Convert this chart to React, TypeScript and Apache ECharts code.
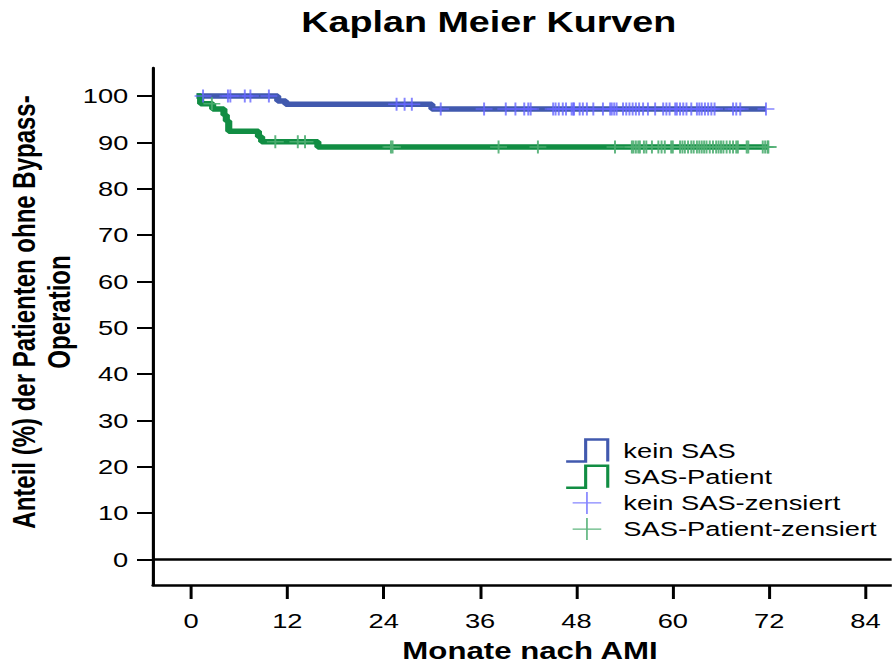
import React, { useEffect, useRef } from "react";
import * as echarts from "echarts";

// The figure is laid out on a narrower canvas and widened horizontally.
const STRETCH = 1.3;
const CHART_W = 892 / STRETCH;
const CHART_H = 666;

const FONT = "'Liberation Sans', Arial, Helvetica, sans-serif";
const BLUE = "#4159ae";
const GREEN = "#118d43";
const BLUE_CENSOR = "#6666ff";
const GREEN_CENSOR = "#4fae72";

const xTicks = [0, 12, 24, 36, 48, 60, 72, 84];
const yTicks = [0, 10, 20, 30, 40, 50, 60, 70, 80, 90, 100];

// Kaplan-Meier steps: month of each step and the survival (%) from then on
const keinSasTimes = [0.7, 10.8, 11.8, 30.0, 71.6];
const keinSasSurvival = [100, 98.9, 98.2, 97.2, 97.2];
const keinSasCensored = [
  1.5, 4.6, 4.9, 6.7, 7.4, 9.7, 25.6, 26.6, 27.5, 31.1, 36.5, 39.2, 40.4, 41.5,
  42.0, 42.3, 45.1, 45.4, 45.8, 46.3, 46.7, 47.4, 47.6, 47.7, 48.4, 48.8, 49.3,
  50.1, 51.3, 52.2, 52.4, 52.7, 53.0, 53.8, 54.2, 54.6, 55.0, 55.4, 55.8, 56.3,
  56.9, 57.8, 58.8, 59.2, 59.6, 60.3, 60.5, 60.9, 61.3, 61.7, 62.3, 63.0, 63.3,
  63.6, 64.0, 64.4, 64.8, 65.2, 67.5, 67.9, 68.4, 71.6,
];

const sasTimes = [0.7, 1.2, 2.7, 4.1, 4.4, 4.7, 8.4, 8.8, 15.8, 71.9];
const sasSurvival = [100, 98.3, 97.2, 95.9, 94.6, 92.4, 91.2, 90.1, 89.0, 89.0];
const sasCensored = [
  2.6, 10.5, 13.3, 14.2, 24.9, 25.1, 38.3, 43.2, 52.8, 54.9, 55.1, 55.4, 55.7,
  55.9, 56.4, 56.7, 57.4, 58.2, 58.6, 59.0, 59.8, 60.0, 60.9, 61.2, 61.5, 61.9,
  62.3, 62.6, 63.0, 63.3, 63.6, 63.9, 64.2, 64.6, 65.0, 65.4, 65.7, 66.0, 66.3,
  66.7, 67.1, 67.5, 67.9, 68.1, 69.2, 69.4, 71.2, 71.5, 71.8, 71.9,
];

const STEP_ICON = "path://M0,22L15,22L15,0L32,0L32,22";
const PLUS_ICON = "path://M11,0L11,22M0,11L22,11";
const PLUS_MARK = "path://M5,0L5,10M0,5L10,5";

function levelAt(times: number[], surv: number[], t: number): number {
  let v = surv[0];
  for (let i = 0; i < times.length; i++) {
    if (times[i] <= t) v = surv[i];
  }
  return v;
}

function stepData(times: number[], surv: number[]) {
  return times.map((t, i) => [t, surv[i]]);
}

function censorData(times: number[], surv: number[], cens: number[]) {
  return cens.map((t) => [t, levelAt(times, surv, t)]);
}

export default function App() {
  const ref = useRef<HTMLDivElement>(null);

  useEffect(() => {
    if (!ref.current) return;
    const chart = echarts.init(ref.current, undefined, { renderer: "svg" });

    const option: echarts.EChartsOption = {
      animation: false,
      backgroundColor: "#ffffff",
      textStyle: { fontFamily: FONT },
      title: {
        text: "Kaplan Meier Kurven",
        left: 376,
        top: 7,
        textAlign: "center",
        padding: 0,
        textStyle: {
          fontFamily: FONT,
          fontSize: 29,
          fontWeight: "bold",
          color: "#000",
          lineHeight: 30,
        },
      },
      grid: { left: 117.7, right: 0, top: 68, bottom: 81, containLabel: false },
      xAxis: {
        type: "value",
        min: -4.73,
        max: 87.27,
        axisLine: { show: true, onZero: false, lineStyle: { color: "#000", width: 2.5 } },
        axisTick: {
          show: true,
          customValues: xTicks,
          length: 14,
          lineStyle: { color: "#000", width: 2.3 },
        },
        axisLabel: {
          customValues: xTicks,
          margin: 25,
          fontSize: 21,
          color: "#000",
          fontFamily: FONT,
        },
        splitLine: { show: false },
      },
      yAxis: {
        type: "value",
        min: -5.55,
        max: 106.04,
        axisLine: { show: true, onZero: false, lineStyle: { color: "#000", width: 2.4 } },
        axisTick: {
          show: true,
          customValues: yTicks,
          length: 12.3,
          lineStyle: { color: "#000", width: 2 },
        },
        axisLabel: {
          customValues: yTicks,
          margin: 19,
          fontSize: 21,
          color: "#000",
          fontFamily: FONT,
        },
        splitLine: { show: false },
      },
      legend: {
        orient: "vertical",
        left: 433,
        top: 437,
        itemWidth: 46,
        itemHeight: 22,
        itemGap: -0.8,
        padding: 0,
        selectedMode: false,
        textStyle: { fontSize: 21, color: "#000", fontFamily: FONT, lineHeight: 22 },
        data: [
          {
            name: "kein SAS",
            icon: STEP_ICON,
            itemStyle: { color: "none", borderColor: BLUE, borderWidth: 2.4 },
          },
          {
            name: "SAS-Patient",
            icon: STEP_ICON,
            itemStyle: { color: "none", borderColor: GREEN, borderWidth: 2.4 },
          },
          {
            name: "kein SAS-zensiert",
            icon: PLUS_ICON,
            itemStyle: { color: "none", borderColor: BLUE_CENSOR, borderWidth: 1.3, opacity: 0.8 },
          },
          {
            name: "SAS-Patient-zensiert",
            icon: PLUS_ICON,
            itemStyle: { color: "none", borderColor: GREEN_CENSOR, borderWidth: 1.3, opacity: 0.9 },
          },
        ],
      },
      graphic: [
        {
          type: "text",
          x: 32.3,
          y: 312,
          rotation: Math.PI / 2,
          style: {
            text: "Anteil (%) der Patienten ohne Bypass-\nOperation",
            fontFamily: FONT,
            fontSize: 24,
            fontWeight: "bold",
            lineHeight: 27,
            fill: "#000",
            align: "center",
            verticalAlign: "middle",
          },
        },
        {
          type: "text",
          x: 407.7,
          y: 651,
          style: {
            text: "Monate nach AMI",
            fontFamily: FONT,
            fontSize: 24,
            fontWeight: "bold",
            fill: "#000",
            align: "center",
            verticalAlign: "middle",
          },
        },
      ],
      series: [
        {
          name: "kein SAS",
          type: "line",
          step: "end",
          symbol: "none",
          data: stepData(keinSasTimes, keinSasSurvival),
          lineStyle: { color: BLUE, width: 5.5 },
          itemStyle: { color: BLUE },
          z: 2,
          markLine: {
            silent: true,
            symbol: ["none", "none"],
            label: { show: false },
            lineStyle: { color: "#000", width: 2.5, type: "solid" },
            data: [{ yAxis: 0 }],
          },
        },
        {
          name: "SAS-Patient",
          type: "line",
          step: "end",
          symbol: "none",
          data: stepData(sasTimes, sasSurvival),
          lineStyle: { color: GREEN, width: 5.5 },
          itemStyle: { color: GREEN },
          z: 2,
        },
        {
          name: "kein SAS-zensiert",
          type: "scatter",
          symbol: PLUS_MARK,
          symbolSize: 13,
          data: censorData(keinSasTimes, keinSasSurvival, keinSasCensored),
          itemStyle: { color: "none", borderColor: BLUE_CENSOR, borderWidth: 1.5, opacity: 0.8 },
          z: 3,
        },
        {
          name: "SAS-Patient-zensiert",
          type: "scatter",
          symbol: PLUS_MARK,
          symbolSize: 13,
          data: censorData(sasTimes, sasSurvival, sasCensored),
          itemStyle: { color: "none", borderColor: GREEN_CENSOR, borderWidth: 1.5, opacity: 0.9 },
          z: 3,
        },
      ],
    };

    chart.setOption(option);
    return () => chart.dispose();
  }, []);

  return (
    <div
      ref={ref}
      style={{
        position: "absolute",
        left: 0,
        top: 0,
        width: CHART_W,
        height: CHART_H,
        transform: `scaleX(${STRETCH})`,
        transformOrigin: "0 0",
        background: "#fff",
      }}
    />
  );
}
